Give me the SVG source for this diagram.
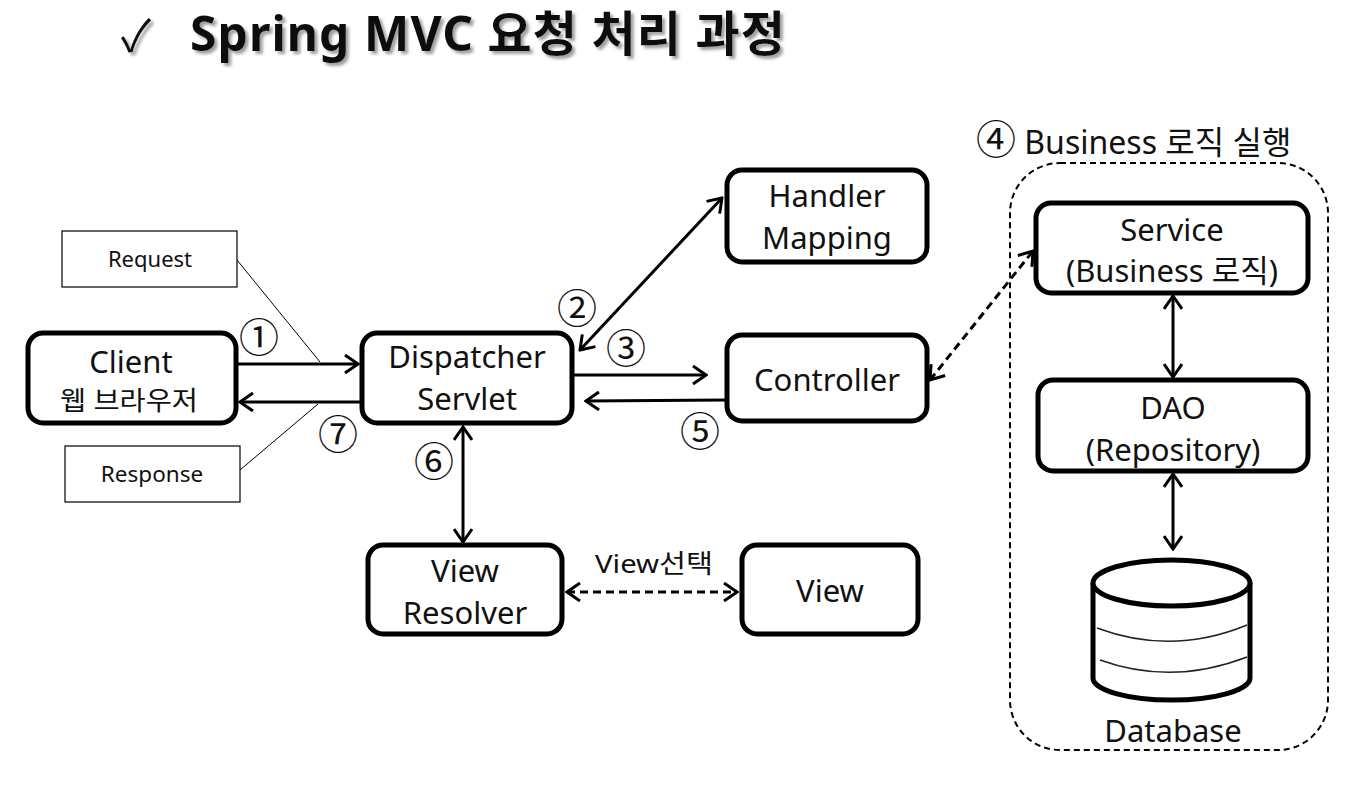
<svg xmlns="http://www.w3.org/2000/svg" width="1364" height="786" viewBox="0 0 1364 786">
<defs>
<style>
text{font-family:"Noto Sans","Noto Sans CJK KR",sans-serif;fill:#111;text-anchor:middle}
.box{fill:#fff;stroke:#000;stroke-width:5}
.note{fill:#fff;stroke:#000;stroke-width:1.2}
.lbl{font-size:31px}
.num{font-size:40px}
.ln{fill:none;stroke:#000;stroke-width:3}
.dash{fill:none;stroke:#000;stroke-width:3;stroke-dasharray:8 5}
.thin{fill:none;stroke:#000;stroke-width:1}
</style>
<marker id="ah" markerUnits="userSpaceOnUse" viewBox="0 0 16 20" markerWidth="16" markerHeight="20" refX="14" refY="10" orient="auto-start-reverse">
<path d="M1,1 L14,10 L1,19" fill="none" stroke="#000" stroke-width="3"/>
</marker>
<filter id="sh" filterUnits="userSpaceOnUse" x="0" y="0" width="1364" height="120">
<feDropShadow dx="3" dy="3" stdDeviation="1.5" flood-color="#888" flood-opacity="0.8"/>
</filter>
</defs>
<rect width="1364" height="786" fill="#fff"/>

<g id="title" filter="url(#sh)">
<text x="121" y="51" style="font-size:44px;text-anchor:start">✓</text>
<text x="190" y="51" style="font-size:48px;font-weight:bold;text-anchor:start" textLength="595" lengthAdjust="spacing">Spring MVC 요청 처리 과정</text>
</g>

<g id="connectors">
<line class="thin" x1="237" y1="260" x2="320" y2="362"/>
<line class="thin" x1="240" y1="470" x2="318" y2="404"/>
<line class="ln" x1="236" y1="364" x2="358" y2="364" marker-end="url(#ah)"/>
<line class="ln" x1="362" y1="402" x2="240" y2="402" marker-end="url(#ah)"/>
<line class="ln" x1="580" y1="350" x2="722" y2="198" marker-start="url(#ah)" marker-end="url(#ah)"/>
<line class="ln" x1="572" y1="375" x2="706" y2="375" marker-end="url(#ah)"/>
<line class="ln" x1="727" y1="400" x2="586" y2="401" marker-end="url(#ah)"/>
<line class="ln" x1="463" y1="427" x2="463" y2="542" marker-start="url(#ah)" marker-end="url(#ah)"/>
<line class="dash" x1="567" y1="592" x2="737" y2="592" marker-start="url(#ah)" marker-end="url(#ah)"/>
<line class="dash" x1="930" y1="380" x2="1033" y2="251" marker-start="url(#ah)" marker-end="url(#ah)"/>
<line class="ln" x1="1173" y1="296" x2="1173" y2="377" marker-start="url(#ah)" marker-end="url(#ah)"/>
<line class="ln" x1="1173" y1="474" x2="1173" y2="549" marker-start="url(#ah)" marker-end="url(#ah)"/>
</g>

<g id="labels">
<text class="num" x="259" y="352">①</text>
<text class="num" x="577" y="323">②</text>
<text class="num" x="626" y="363">③</text>
<text class="num" x="700" y="446">⑤</text>
<text class="num" x="434" y="476">⑥</text>
<text class="num" x="338" y="449">⑦</text>
<text x="654" y="573" style="font-size:26px" textLength="118" lengthAdjust="spacingAndGlyphs">View선택</text>
</g>

<g id="request">
<rect class="note" x="62" y="231" width="175" height="56"/>
<text x="150" y="267" style="font-size:22px">Request</text>
</g>
<g id="response">
<rect class="note" x="65" y="446" width="175" height="56"/>
<text x="152" y="482" style="font-size:22.5px">Response</text>
</g>

<g id="client">
<rect class="box" x="28" y="333" width="208" height="90" rx="15"/>
<text class="lbl" x="131" y="373">Client</text>
<text x="129" y="410" style="font-size:26px" textLength="138" lengthAdjust="spacingAndGlyphs">웹 브라우저</text>
</g>

<g id="dispatcher">
<rect class="box" x="362" y="333" width="210" height="90" rx="15"/>
<text class="lbl" x="467" y="368">Dispatcher</text>
<text class="lbl" x="467" y="410">Servlet</text>
</g>

<g id="handler">
<rect class="box" x="727" y="170" width="200" height="92" rx="15"/>
<text class="lbl" x="827" y="207">Handler</text>
<text class="lbl" x="827" y="249">Mapping</text>
</g>

<g id="controller">
<rect class="box" x="727" y="335" width="200" height="86" rx="15"/>
<text class="lbl" x="827" y="391">Controller</text>
</g>

<g id="viewresolver">
<rect class="box" x="368" y="545" width="194" height="89" rx="15"/>
<text class="lbl" x="465" y="582">View</text>
<text class="lbl" x="465" y="624">Resolver</text>
</g>

<g id="view">
<rect class="box" x="742" y="545" width="176" height="89" rx="15"/>
<text class="lbl" x="830" y="602">View</text>
</g>

<g id="business">
<rect x="1010" y="163" width="318" height="587" rx="50" fill="none" stroke="#000" stroke-width="2" stroke-dasharray="6 4"/>
<text x="976" y="154" style="font-size:32px;text-anchor:start"><tspan style="font-size:40px">④</tspan> Business 로직 실행</text>
</g>

<g id="service">
<rect class="box" x="1036" y="203" width="272" height="90" rx="15"/>
<text class="lbl" x="1172" y="241">Service</text>
<text class="lbl" x="1172" y="282">(Business 로직)</text>
</g>

<g id="dao">
<rect class="box" x="1038" y="380" width="270" height="91" rx="15"/>
<text class="lbl" x="1173" y="419">DAO</text>
<text class="lbl" x="1173" y="461">(Repository)</text>
</g>

<g id="database">
<path d="M1093,583 L1093,678 A78.5,22 0 0 0 1250,678 L1250,583" fill="#fff" stroke="#000" stroke-width="5"/>
<ellipse cx="1171.5" cy="583" rx="78.5" ry="23" fill="#fff" stroke="#000" stroke-width="5"/>
<path d="M1097,628 Q1172,656 1247,625" fill="none" stroke="#222" stroke-width="1.5"/>
<path d="M1100,660 Q1172,686 1247,657" fill="none" stroke="#222" stroke-width="1.5"/>
<text class="lbl" x="1173" y="742">Database</text>
</g>
</svg>
